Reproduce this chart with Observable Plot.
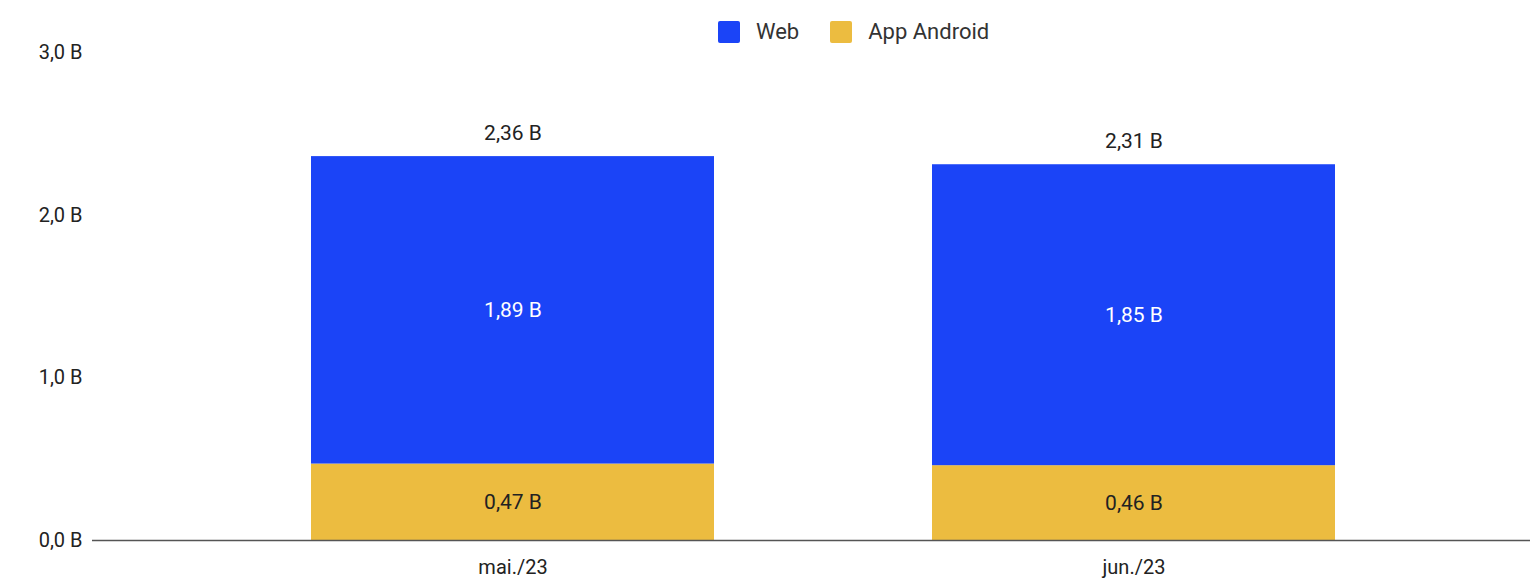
<!DOCTYPE html>
<html>
<head>
<meta charset="utf-8">
<script src="https://cdn.jsdelivr.net/npm/d3@7"></script>
<script src="https://cdn.jsdelivr.net/npm/@observablehq/plot@0.6"></script>
<style>
  body { margin: 0; background: #fff; font-family: Roboto, "Noto Sans", sans-serif; }
  #wrap { position: relative; width: 1530px; height: 578px; }
  #legend { position: absolute; top: 21px; left: 718px; display: flex; align-items: center; font-size: 22px; line-height: 22px; color: #333; }
  #legend .item { display: flex; align-items: center; margin-right: 31px; }
  #legend .sw { width: 22px; height: 22px; border-radius: 2px; margin-right: 16px; }
</style>
</head>
<body>
<div id="wrap">
<div id="chart"></div>
<div id="legend"></div>
</div>
<script>
const months = ["mai./23", "jun./23"];
const series = ["App Android", "Web"];
const androidValues = [0.47, 0.46];
const webValues = [1.89, 1.85];
const totals = [2.36, 2.31];
const yTicks = [0, 1, 2, 3];
const colors = { "Web": "#1b44f7", "App Android": "#ecbc40" };
const legendOrder = ["Web", "App Android"];

const fmt2 = v => v.toFixed(2).replace(".", ",") + " B";
const fmt1 = v => v.toFixed(1).replace(".", ",") + " B";

const rows = [];
months.forEach((m, i) => {
  rows.push({ month: m, series: "App Android", value: androidValues[i] });
  rows.push({ month: m, series: "Web", value: webValues[i] });
});
const totalRows = months.map((m, i) => ({ month: m, total: totals[i] }));

const legend = document.getElementById("legend");
legendOrder.forEach(s => {
  const it = document.createElement("div");
  it.className = "item";
  const sw = document.createElement("div");
  sw.className = "sw";
  sw.style.background = colors[s];
  const t = document.createElement("span");
  t.textContent = s;
  it.appendChild(sw); it.appendChild(t);
  legend.appendChild(it);
});

const chart = Plot.plot({
  width: 1530,
  height: 578,
  marginTop: 52,
  marginBottom: 38,
  marginLeft: 92,
  marginRight: 0,
  style: { fontFamily: "Roboto, 'Noto Sans', sans-serif", fontSize: "20px", color: "#222", background: "#fff" },
  x: { domain: months, range: [202, 1444], paddingInner: 0.351, paddingOuter: 0.1755, label: null, tickSize: 0, tickPadding: 19 },
  y: { domain: [0, 3], ticks: yTicks, tickFormat: fmt1, label: null, tickSize: 0, tickPadding: 10 },
  color: { domain: series, range: series.map(s => colors[s]) },
  marks: [
    Plot.barY(rows, { x: "month", y: "value", fill: "series" }),
    Plot.text(rows, Plot.stackY({ x: "month", y: "value", text: d => fmt2(d.value), fill: d => d.series === "Web" ? "#ffffff" : "#222222", fontSize: 21 })),
    Plot.text(totalRows, { x: "month", y: "total", text: d => fmt2(d.total), dy: -23, fill: "#222", fontSize: 21 }),
    Plot.ruleY([0], { stroke: "#555", strokeWidth: 1.5 })
  ]
});
document.getElementById("chart").appendChild(chart);
</script>
</body>
</html>
